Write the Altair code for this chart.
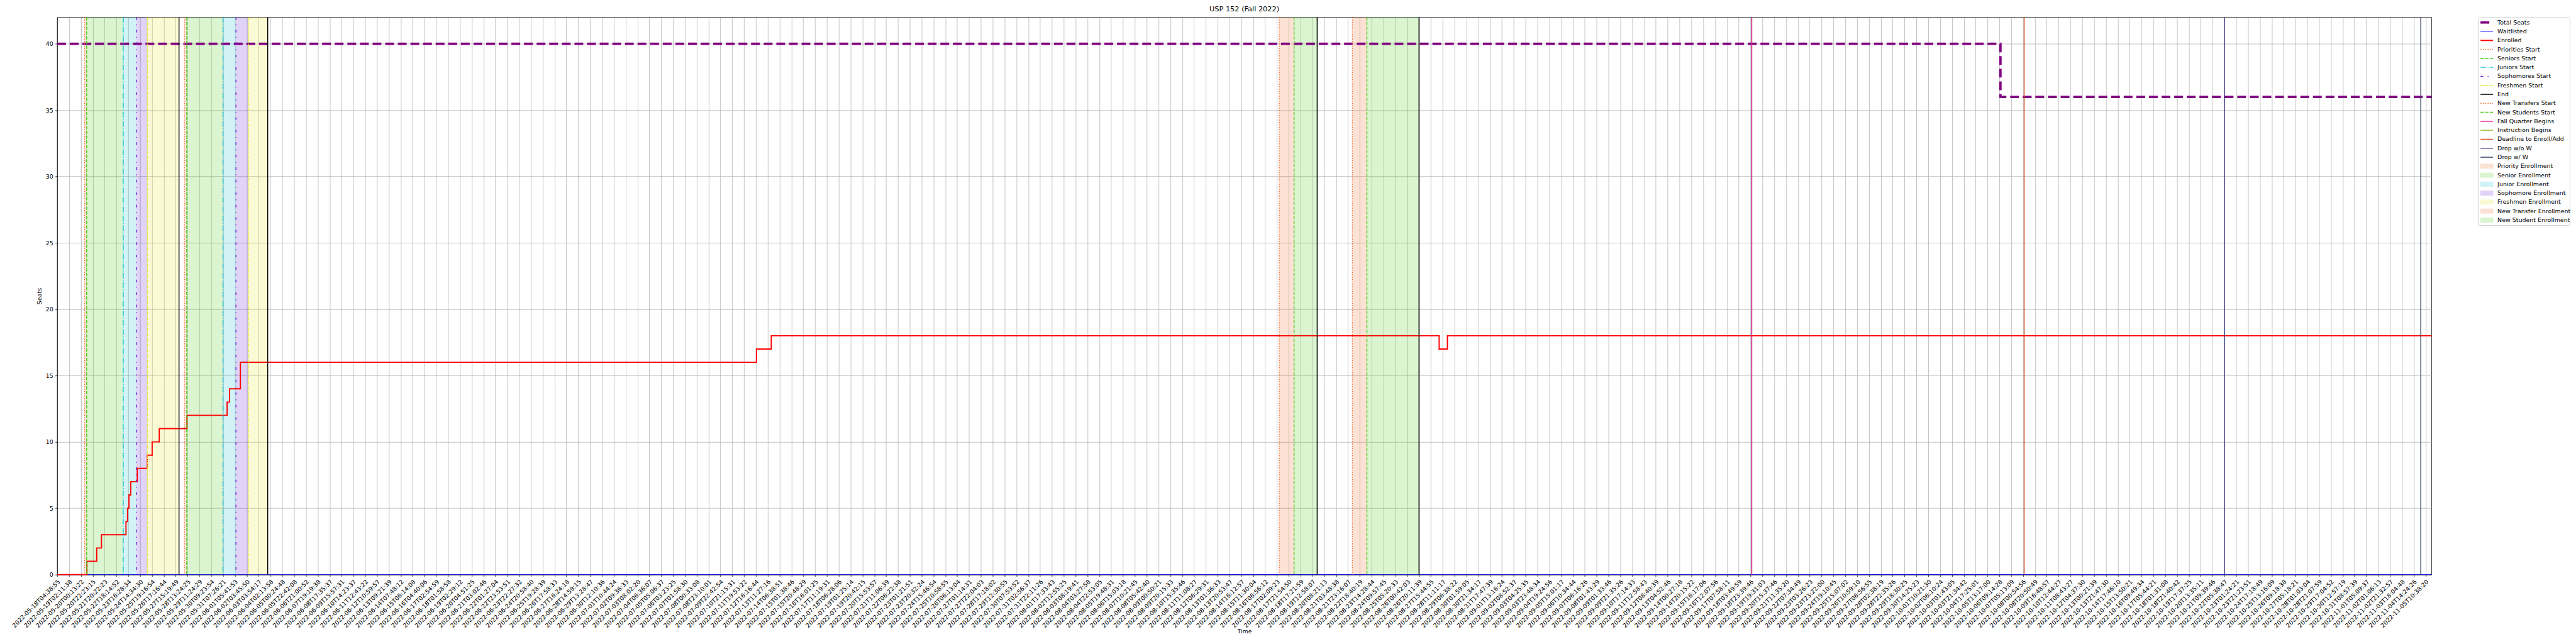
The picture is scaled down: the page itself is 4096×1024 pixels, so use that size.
import json
import altair as alt
import pandas as pd

S = 0.682
PT = 100.0 / 72.0 * S  # one matplotlib point in our pixels

# ---------------- data ----------------
tick_labels = [
    "2022-05-18T04:38:55", "2022-05-19T02:11:38", "2022-05-20T00:13:22", "2022-05-20T22:23:15",
    "2022-05-21T20:22:23", "2022-05-22T18:14:52", "2022-05-23T16:28:34", "2022-05-24T14:34:30",
    "2022-05-25T19:16:54", "2022-05-26T17:16:44", "2022-05-27T15:19:49", "2022-05-28T13:24:25",
    "2022-05-29T11:24:29", "2022-05-30T09:23:54", "2022-05-31T07:26:21", "2022-06-01T05:41:53",
    "2022-06-02T03:45:50", "2022-06-03T03:54:17", "2022-06-04T02:13:58", "2022-06-05T00:24:48",
    "2022-06-05T22:42:08", "2022-06-06T21:00:52", "2022-06-07T19:19:38", "2022-06-08T17:35:37",
    "2022-06-09T15:57:31", "2022-06-10T14:23:37", "2022-06-11T12:43:22", "2022-06-12T10:59:57",
    "2022-06-13T09:21:39", "2022-06-14T07:48:12", "2022-06-15T06:14:08", "2022-06-16T04:40:06",
    "2022-06-17T02:54:59", "2022-06-18T01:58:58", "2022-06-19T02:29:12", "2022-06-20T04:51:25",
    "2022-06-21T03:02:46", "2022-06-22T01:27:04", "2022-06-22T23:53:51", "2022-06-23T22:27:32",
    "2022-06-24T20:58:40", "2022-06-25T19:28:39", "2022-06-26T17:58:33", "2022-06-27T16:24:18",
    "2022-06-28T14:59:15", "2022-06-29T13:28:47", "2022-06-30T12:10:36", "2022-07-01T10:44:24",
    "2022-07-02T09:36:33", "2022-07-03T08:02:20", "2022-07-04T06:36:07", "2022-07-05T05:06:37",
    "2022-07-06T03:23:25", "2022-07-07T01:58:30", "2022-07-08T00:33:08", "2022-07-08T23:10:01",
    "2022-07-09T22:42:54", "2022-07-10T21:15:31", "2022-07-11T19:53:22", "2022-07-12T16:16:44",
    "2022-07-13T11:27:16", "2022-07-14T06:38:51", "2022-07-15T01:38:46", "2022-07-15T20:48:29",
    "2022-07-16T16:01:25", "2022-07-17T11:19:31", "2022-07-18T06:28:06", "2022-07-19T01:25:14",
    "2022-07-19T20:42:15", "2022-07-20T15:53:57", "2022-07-21T11:06:39", "2022-07-22T06:22:38",
    "2022-07-23T01:21:51", "2022-07-23T20:32:24", "2022-07-24T15:46:54", "2022-07-25T10:58:55",
    "2022-07-26T06:13:04", "2022-07-27T01:14:31", "2022-07-27T22:04:03", "2022-07-28T17:18:02",
    "2022-07-29T12:30:55", "2022-07-30T07:53:52", "2022-07-31T02:56:37", "2022-07-31T22:11:26",
    "2022-08-01T17:33:43", "2022-08-02T12:55:25", "2022-08-03T08:19:41", "2022-08-04T03:27:58",
    "2022-08-04T22:53:05", "2022-08-05T19:48:31", "2022-08-06T15:03:18", "2022-08-07T10:21:45",
    "2022-08-08T05:42:40", "2022-08-09T00:50:21", "2022-08-09T20:15:33", "2022-08-10T15:35:46",
    "2022-08-11T11:08:27", "2022-08-12T06:29:31", "2022-08-13T01:36:33", "2022-08-13T20:53:47",
    "2022-08-14T16:12:57", "2022-08-15T11:30:04", "2022-08-16T06:56:12", "2022-08-17T02:09:23",
    "2022-08-17T21:54:50", "2022-08-18T17:21:59", "2022-08-19T12:58:07", "2022-08-20T08:21:13",
    "2022-08-21T03:48:38", "2022-08-21T23:16:07", "2022-08-22T18:40:19", "2022-08-23T14:28:44",
    "2022-08-24T09:57:45", "2022-08-25T05:20:33", "2022-08-26T00:42:03", "2022-08-26T20:11:39",
    "2022-08-27T15:44:55", "2022-08-28T11:11:17", "2022-08-29T06:38:22", "2022-08-30T01:59:05",
    "2022-08-30T21:34:17", "2022-08-31T17:47:39", "2022-09-01T13:16:24", "2022-09-02T08:52:37",
    "2022-09-03T04:25:35", "2022-09-03T23:48:34", "2022-09-04T19:24:56", "2022-09-05T15:01:17",
    "2022-09-06T10:34:44", "2022-09-07T06:16:26", "2022-09-08T01:43:29", "2022-09-09T01:33:46",
    "2022-09-09T21:35:26", "2022-09-10T17:14:33", "2022-09-11T12:58:43", "2022-09-12T08:40:39",
    "2022-09-13T04:52:46", "2022-09-14T00:27:18", "2022-09-14T20:15:22", "2022-09-15T16:17:06",
    "2022-09-16T12:07:56", "2022-09-17T07:58:11", "2022-09-18T03:49:59", "2022-09-18T23:39:46",
    "2022-09-19T19:31:03", "2022-09-20T15:37:46", "2022-09-21T11:35:20", "2022-09-22T07:34:49",
    "2022-09-23T03:26:23", "2022-09-23T23:22:00", "2022-09-24T19:10:45", "2022-09-25T15:07:02",
    "2022-09-26T10:59:10", "2022-09-27T06:56:55", "2022-09-28T02:38:19", "2022-09-28T22:35:26",
    "2022-09-29T18:30:25", "2022-09-30T14:25:23", "2022-10-01T10:21:30", "2022-10-02T06:10:24",
    "2022-10-03T01:43:05", "2022-10-03T21:34:42", "2022-10-04T17:25:01", "2022-10-05T13:17:00",
    "2022-10-06T09:14:28", "2022-10-07T05:13:09", "2022-10-08T00:54:56", "2022-10-08T20:50:49",
    "2022-10-09T16:48:57", "2022-10-10T12:44:27", "2022-10-11T08:43:27", "2022-10-12T04:37:30",
    "2022-10-13T00:21:39", "2022-10-13T21:47:30", "2022-10-14T17:46:10", "2022-10-15T13:50:21",
    "2022-10-16T09:49:34", "2022-10-17T05:44:21", "2022-10-18T01:31:08", "2022-10-18T21:40:42",
    "2022-10-19T17:37:25", "2022-10-20T13:35:11", "2022-10-21T09:39:46", "2022-10-22T05:38:47",
    "2022-10-23T01:24:21", "2022-10-23T21:23:51", "2022-10-24T17:18:49", "2022-10-25T13:16:09",
    "2022-10-26T09:18:38", "2022-10-27T05:18:21", "2022-10-28T01:03:04", "2022-10-28T21:07:59",
    "2022-10-29T17:04:52", "2022-10-30T12:57:19", "2022-10-31T08:57:39", "2022-11-01T05:09:37",
    "2022-11-02T01:06:13", "2022-11-02T21:32:57", "2022-11-03T18:04:48", "2022-11-04T14:24:26",
    "2022-11-05T10:38:20",
]
x_end = 200.5  # last sample, in tick-index units

# series (x in tick-index units)
seats_x = [0.0, 164.1, x_end]
seats_y = [40, 36, 36]
wait_x = [0.0, x_end]
wait_y = [0, 0]
enrolled_x = [0.0, 2.51, 3.34, 3.74, 5.81, 5.94, 6.06, 6.21, 6.76, 7.61, 8.02, 8.62,
              10.96, 14.35, 14.56, 15.47, 59.05, 60.3, 116.7, 117.4, x_end]
enrolled_y = [0, 1, 2, 3, 4, 5, 6, 7, 8, 9, 10, 11,
              12, 13, 14, 16, 17, 18, 17, 18, 18]

# event lines
event_names = ["Priorities Start", "Seniors Start", "Juniors Start", "Sophomores Start", "Freshmen Start", "End",
               "Priorities Start", "Seniors Start", "Juniors Start", "Sophomores Start", "Freshmen Start", "End",
               "New Transfers Start", "New Students Start", "End",
               "New Transfers Start", "New Students Start", "End",
               "Instruction Begins", "Fall Quarter Begins", "Deadline to Enroll/Add", "Drop w/o W", "Drop w/ W"]
event_pos = [2.31, 2.49, 5.58, 6.69, 7.62, 10.29,
             10.74, 10.94, 14.0, 15.1, 16.14, 17.78,
             103.2, 104.45, 106.4,
             109.37, 110.6, 115.0,
             143.1, 143.1, 166.1, 183.0, 199.6]

# shaded periods
patch_names = ["Priority Enrollment", "Senior Enrollment", "Junior Enrollment", "Sophomore Enrollment", "Freshmen Enrollment",
               "Priority Enrollment", "Senior Enrollment", "Junior Enrollment", "Sophomore Enrollment", "Freshmen Enrollment",
               "New Transfer Enrollment", "New Student Enrollment",
               "New Transfer Enrollment", "New Student Enrollment"]
patch_start = [2.31, 2.49, 5.58, 6.69, 7.62,
               10.74, 10.94, 14.0, 15.1, 16.14,
               103.2, 104.45,
               109.37, 110.6]
patch_end = [2.49, 5.58, 6.69, 7.62, 10.29,
             10.94, 14.0, 15.1, 16.14, 17.78,
             104.45, 106.4,
             110.6, 115.0]

legend_names = ["Total Seats", "Waitlisted", "Enrolled", "Priorities Start", "Seniors Start", "Juniors Start",
                "Sophomores Start", "Freshmen Start", "End", "New Transfers Start", "New Students Start",
                "Fall Quarter Begins", "Instruction Begins", "Deadline to Enroll/Add", "Drop w/o W", "Drop w/ W",
                "Priority Enrollment", "Senior Enrollment", "Junior Enrollment", "Sophomore Enrollment",
                "Freshmen Enrollment", "New Transfer Enrollment", "New Student Enrollment"]

# ---------------- styles ----------------
C_PRI = "#ee6a2c"
C_SEN = "#44cc11"
C_JUN = "#17c4d4"
C_SOP = "#6b20d8"
C_FRE = "#e4e42a"
style = {
    # name: (color, dash, width)  -- None dash means a shaded patch
    "Total Seats": ("#800080", [14.8 * PT, 6.4 * PT], 4 * PT),
    "Waitlisted": ("#0000ff", [1, 0], 1.0 * PT),
    "Enrolled": ("#ff0000", [1, 0], 2.0 * PT),
    "Priorities Start": (C_PRI, [1.5 * PT, 2.5 * PT], 1.5 * PT),
    "Seniors Start": (C_SEN, [5.55 * PT, 2.4 * PT], 1.5 * PT),
    "Juniors Start": (C_JUN, [9.6 * PT, 2.4 * PT, 1.5 * PT, 2.4 * PT], 1.5 * PT),
    "Sophomores Start": (C_SOP, [4.5 * PT, 7.5 * PT, 1.5 * PT, 7.5 * PT], 1.5 * PT),
    "Freshmen Start": (C_FRE, [4.5 * PT, 1.5 * PT, 1.5 * PT, 1.5 * PT], 1.5 * PT),
    "End": ("#000000", [1, 0], 1.5 * PT),
    "New Transfers Start": (C_PRI, [1.5 * PT, 2.5 * PT], 1.5 * PT),
    "New Students Start": (C_SEN, [5.55 * PT, 2.4 * PT], 1.5 * PT),
    "Fall Quarter Begins": ("#e0109a", [1, 0], 1.5 * PT),
    "Instruction Begins": ("#8db51f", [1, 0], 1.5 * PT),
    "Deadline to Enroll/Add": ("#d9441f", [1, 0], 1.5 * PT),
    "Drop w/o W": ("#2f2a86", [1, 0], 1.5 * PT),
    "Drop w/ W": ("#2d3b5c", [1, 0], 1.5 * PT),
    "Priority Enrollment": (C_PRI, None, 1.0 * PT),
    "Senior Enrollment": (C_SEN, None, 1.0 * PT),
    "Junior Enrollment": (C_JUN, None, 1.0 * PT),
    "Sophomore Enrollment": (C_SOP, None, 1.0 * PT),
    "Freshmen Enrollment": (C_FRE, None, 1.0 * PT),
    "New Transfer Enrollment": (C_PRI, None, 1.0 * PT),
    "New Student Enrollment": (C_SEN, None, 1.0 * PT),
}
legend_colors = [style[n][0] for n in legend_names]
PATCH_ALPHA = 0.2

W = 3779
H = 887
LEG_W = 146
LEG_H = 331
FONT = "DejaVu Sans"
FS = 10 * PT
TITLE_FS = 12 * PT

color_scale = alt.Scale(domain=legend_names, range=legend_colors)
COLOR = alt.Color("name:N", scale=color_scale, legend=None)

x_scale = alt.Scale(domain=[0, x_end], nice=False, zero=False)
y_scale = alt.Scale(domain=[0, 42], nice=False)
x_axis = alt.Axis(
    values=list(range(len(tick_labels))),
    labelExpr="%s[datum.value]" % json.dumps(tick_labels),
    labelAngle=-45,
    labelAlign="right",
    labelBaseline="top",
    labelOverlap=False,
    labelBound=False,
    labelFlush=False,
    grid=True,
    titlePadding=0,
)
y_axis = alt.Axis(values=list(range(0, 41, 5)), grid=True, titlePadding=5, labelOverlap=False)


def X(f):
    return alt.X(f, scale=x_scale, axis=x_axis, title="Time")


def Y(f):
    return alt.Y(f, scale=y_scale, axis=y_axis, title="Seats")


# ---------------- main plot ----------------
patch_df = pd.DataFrame({"name": patch_names, "start": patch_start, "end": patch_end})
patches = alt.Chart(patch_df).mark_rect(opacity=PATCH_ALPHA).encode(
    x=X("start:Q"), x2="end:Q", color=COLOR
)


def series(xs, ys, name):
    df = pd.DataFrame({"t": xs, "v": ys, "name": name})
    c, d, w = style[name]
    return alt.Chart(df).mark_line(interpolate="step-after", strokeDash=d, strokeWidth=w).encode(
        x=X("t:Q"), y=Y("v:Q"), color=COLOR
    )


seats = series(seats_x, seats_y, "Total Seats")
wait = series(wait_x, wait_y, "Waitlisted")
enrolled = series(enrolled_x, enrolled_y, "Enrolled")

event_df = pd.DataFrame({"name": event_names, "pos": event_pos})
rule_layers = []
for name in dict.fromkeys(event_names):
    c, d, w = style[name]
    rule_layers.append(
        alt.Chart(event_df).transform_filter(alt.datum.name == name)
        .mark_rule(strokeDash=d, strokeWidth=w)
        .encode(x=X("pos:Q"), color=COLOR)
    )

main = alt.layer(patches, seats, wait, enrolled, *rule_layers).properties(
    width=W,
    height=H,
    title=alt.TitleParams("USP 152 (Fall 2022)", font=FONT, fontSize=TITLE_FS, fontWeight="normal",
                          color="#000000", anchor="middle", offset=6),
)

# ---------------- legend panel ----------------
leg_df = pd.DataFrame({"name": legend_names})
LY = alt.Y("name:N", sort=legend_names,
           scale=alt.Scale(type="point", domain=legend_names, padding=0.575), axis=None)
leg_layers = []
for name in legend_names:
    c, d, w = style[name]
    if d is None:
        continue
    leg_layers.append(
        alt.Chart(leg_df).transform_filter(alt.datum.name == name)
        .mark_rule(strokeDash=d, strokeWidth=w, strokeCap="butt")
        .encode(y=LY, x=alt.value(4), x2=alt.value(24), color=COLOR)
    )
patch_set = [n for n in legend_names if style[n][1] is None]
leg_layers.append(
    alt.Chart(leg_df).transform_filter(alt.FieldOneOfPredicate(field="name", oneOf=patch_set))
    .mark_tick(orient="horizontal", size=20, thickness=7, opacity=PATCH_ALPHA, strokeWidth=1.0 * PT)
    .encode(y=LY, x=alt.value(14), color=COLOR,
            stroke=alt.Stroke("name:N", scale=color_scale, legend=None))
)
leg_layers.append(
    alt.Chart(leg_df).mark_text(align="left", baseline="middle", font=FONT, fontSize=FS, color="#000000")
    .encode(y=LY, x=alt.value(31), text="name:N")
)
legend_panel = alt.layer(*leg_layers).properties(
    width=LEG_W,
    height=LEG_H,
    title=alt.TitleParams(" ", font=FONT, fontSize=TITLE_FS, fontWeight="normal", offset=6),
    view=alt.ViewBackground(stroke="#cccccc", strokeWidth=1.0 * PT, cornerRadius=2.5, fill="#ffffff"),
)

chart = alt.hconcat(main, legend_panel, spacing=65).properties(
    padding={"left": 8, "top": 0, "right": 0, "bottom": 5},
).configure_view(
    stroke="#000000", strokeWidth=0.8 * PT
).configure_axis(
    domainColor="#000000", domainWidth=0.8 * PT,
    tickColor="#000000", tickWidth=0.8 * PT, tickSize=3.5 * PT,
    labelFont=FONT, labelFontSize=FS, labelColor="#000000", labelPadding=3.5 * PT,
    gridColor="#b0b0b0", gridWidth=0.8 * PT,
    titleFont=FONT, titleFontSize=FS, titleFontWeight="normal", titleColor="#000000",
).configure_title(font=FONT, color="#000000")

chart.save("out.html", embed_options={"renderer": "svg", "actions": False})
